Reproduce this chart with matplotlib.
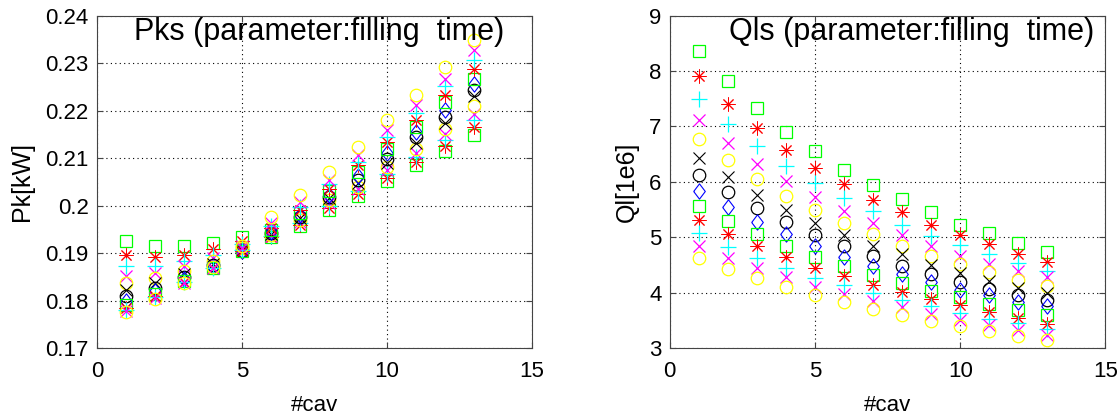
import numpy as np
import matplotlib.pyplot as plt

plt.rcParams['font.family'] = ['Liberation Sans', 'DejaVu Sans']

cav = [1, 2, 3, 4, 5, 6, 7, 8, 9, 10, 11, 12, 13]

# Pk [kW] per filling-time setting (rows), per cavity (columns)
pk = [
    [0.1925, 0.1914, 0.1915, 0.1922, 0.1934, 0.1933, 0.1957, 0.1990, 0.2020, 0.2052, 0.2085, 0.2115, 0.2148],
    [0.1897, 0.1892, 0.1897, 0.1908, 0.1926, 0.1934, 0.1960, 0.1995, 0.2025, 0.2058, 0.2092, 0.2125, 0.2165],
    [0.1872, 0.1872, 0.1883, 0.1897, 0.1919, 0.1935, 0.1963, 0.2000, 0.2030, 0.2066, 0.2102, 0.2138, 0.2180],
    [0.1852, 0.1859, 0.1872, 0.1890, 0.1914, 0.1936, 0.1966, 0.2006, 0.2035, 0.2074, 0.2111, 0.2150, 0.2194],
    [0.1836, 0.1847, 0.1862, 0.1883, 0.1910, 0.1938, 0.1970, 0.2012, 0.2040, 0.2082, 0.2120, 0.2162, 0.2209],
    [0.1822, 0.1836, 0.1855, 0.1878, 0.1907, 0.1940, 0.1973, 0.2015, 0.2048, 0.2090, 0.2132, 0.2175, 0.2230],
    [0.1810, 0.1827, 0.1849, 0.1874, 0.1905, 0.1942, 0.1976, 0.2018, 0.2054, 0.2099, 0.2145, 0.2187, 0.2243],
    [0.1800, 0.1820, 0.1845, 0.1871, 0.1904, 0.1945, 0.1980, 0.2022, 0.2063, 0.2110, 0.2155, 0.2201, 0.2257],
    [0.1791, 0.1814, 0.1842, 0.1869, 0.1904, 0.1948, 0.1985, 0.2030, 0.2071, 0.2120, 0.2166, 0.2218, 0.2267],
    [0.1785, 0.1810, 0.1840, 0.1868, 0.1905, 0.1952, 0.1990, 0.2036, 0.2085, 0.2134, 0.2181, 0.2234, 0.2288],
    [0.1780, 0.1807, 0.1839, 0.1868, 0.1907, 0.1957, 0.1997, 0.2045, 0.2092, 0.2145, 0.2195, 0.2251, 0.2307],
    [0.1777, 0.1805, 0.1838, 0.1869, 0.1910, 0.1964, 0.2008, 0.2054, 0.2106, 0.2159, 0.2211, 0.2267, 0.2328],
    [0.1775, 0.1804, 0.1838, 0.1871, 0.1914, 0.1977, 0.2022, 0.2071, 0.2124, 0.2180, 0.2232, 0.2292, 0.2349],
]

# Ql [1e6] per filling-time setting (rows), per cavity (columns)
ql = [
    [8.37, 7.83, 7.33, 6.90, 6.55, 6.22, 5.95, 5.69, 5.46, 5.23, 5.07, 4.90, 4.73],
    [7.91, 7.40, 6.98, 6.57, 6.25, 5.97, 5.68, 5.46, 5.23, 5.04, 4.87, 4.70, 4.55],
    [7.50, 7.04, 6.64, 6.29, 5.98, 5.70, 5.47, 5.23, 5.03, 4.86, 4.69, 4.54, 4.39],
    [7.11, 6.70, 6.33, 6.01, 5.73, 5.47, 5.26, 5.04, 4.84, 4.67, 4.52, 4.39, 4.28],
    [6.77, 6.39, 6.06, 5.74, 5.49, 5.26, 5.05, 4.84, 4.66, 4.51, 4.37, 4.23, 4.12],
    [6.43, 6.08, 5.77, 5.50, 5.26, 5.04, 4.84, 4.69, 4.50, 4.36, 4.21, 4.09, 3.99],
    [6.13, 5.81, 5.53, 5.28, 5.04, 4.84, 4.66, 4.49, 4.34, 4.20, 4.07, 3.95, 3.86],
    [5.84, 5.54, 5.28, 5.05, 4.84, 4.64, 4.48, 4.33, 4.20, 4.05, 3.95, 3.83, 3.75],
    [5.57, 5.30, 5.05, 4.84, 4.64, 4.48, 4.32, 4.17, 4.03, 3.92, 3.80, 3.69, 3.59],
    [5.31, 5.06, 4.84, 4.64, 4.45, 4.30, 4.13, 4.01, 3.88, 3.77, 3.65, 3.55, 3.44],
    [5.08, 4.83, 4.63, 4.45, 4.27, 4.13, 3.99, 3.86, 3.75, 3.63, 3.53, 3.45, 3.35],
    [4.84, 4.63, 4.45, 4.28, 4.11, 3.98, 3.85, 3.74, 3.62, 3.51, 3.41, 3.32, 3.23],
    [4.63, 4.43, 4.27, 4.10, 3.96, 3.83, 3.71, 3.60, 3.49, 3.39, 3.30, 3.21, 3.14],
]

# matlab-like marker set: (marker, color, size, edge width)
diamond = [(-0.38, 0), (0, 0.5), (0.38, 0), (0, -0.5), (-0.38, 0)]
star = (8, 2, 0)
styles = [
    ('s', '#00ff00', 8, 0.9), (star, '#ff0000', 10, 0.7), ('+', '#00ffff', 11, 0.9),
    ('x', '#ff00ff', 8, 0.9), ('o', '#ffff00', 9, 0.9), ('x', 'k', 8, 0.8),
    ('o', 'k', 9, 0.9), (diamond, '#0000ff', 11, 0.8), ('s', '#00ff00', 8, 0.9),
    (star, '#ff0000', 10, 0.7), ('+', '#00ffff', 11, 0.9), ('x', '#ff00ff', 8, 0.9),
    ('o', '#ffff00', 9, 0.9),
]

fig = plt.figure(figsize=(11.2, 4.15), dpi=100)
ax1 = fig.add_axes([0.0866, 0.1614, 0.3884, 0.8007])
ax2 = fig.add_axes([0.598, 0.1614, 0.389, 0.8007])


def draw(ax, data):
    for row, (m, c, ms, mew) in zip(data, styles):
        ax.plot(cav, row, linestyle='none', marker=m, markersize=ms,
                markerfacecolor='none', markeredgecolor=c, markeredgewidth=mew)
    ax.set_xlim(0, 15)
    ax.set_xticks([0, 5, 10, 15])
    ax.grid(True, linestyle=(0, (1, 3)), color='k', linewidth=0.8)
    ax.tick_params(direction='in', top=True, right=True, length=4,
                   labelsize=16, color='#444444')
    ax.tick_params(axis='x', pad=9)
    ax.tick_params(axis='y', pad=6)
    for s in ax.spines.values():
        s.set_color('#444444')
    ax.set_xlabel('#cav', fontsize=16, labelpad=10)


draw(ax1, pk)
ax1.set_ylim(0.17, 0.24)
ax1.set_yticks(np.arange(0.17, 0.2401, 0.01))
ax1.set_yticklabels(['0.17', '0.18', '0.19', '0.2', '0.21', '0.22', '0.23', '0.24'])
ax1.set_ylabel('Pk[kW]', fontsize=18, labelpad=8)
ax1.text(0.51, 0.995, 'Pks (parameter:filling  time)', transform=ax1.transAxes,
         ha='center', va='top', fontsize=22)

draw(ax2, ql)
ax2.set_ylim(3, 9)
ax2.set_yticks(range(3, 10))
ax2.set_ylabel('Ql[1e6]', fontsize=18, labelpad=7)
ax2.text(0.555, 0.995, 'Qls (parameter:filling  time)', transform=ax2.transAxes,
         ha='center', va='top', fontsize=22)

fig.savefig('out.png', dpi=100)
